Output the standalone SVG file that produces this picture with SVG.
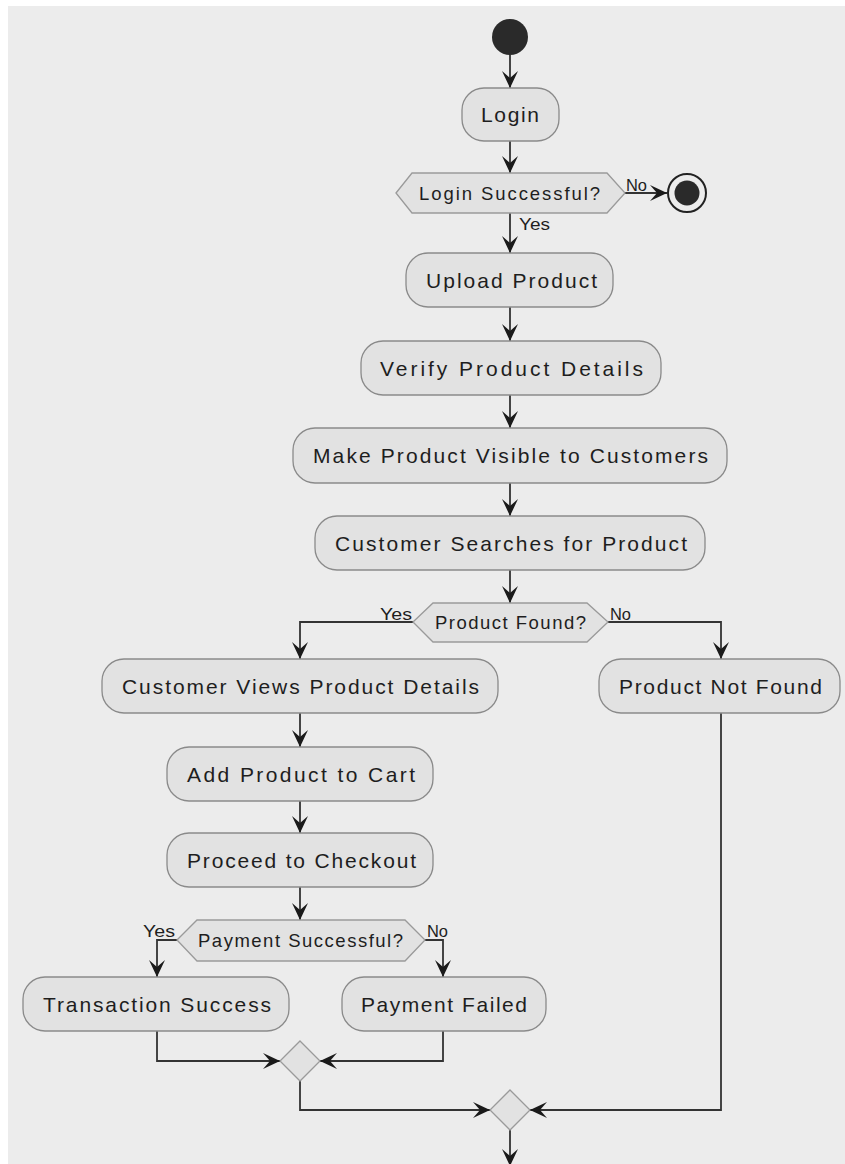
<svg xmlns="http://www.w3.org/2000/svg" width="845" height="1164" viewBox="0 0 845 1164">
<defs>
<style>
.bg{fill:#ececec}
.act rect{fill:#e2e2e2;stroke:#8a8a8a;stroke-width:1.3}
.dec polygon{fill:#e2e2e2;stroke:#9a9a9a;stroke-width:1.3}
.t{font-family:"Liberation Sans",Arial,sans-serif;font-size:21px;fill:#1e1e1e}
.ts{font-family:"Liberation Sans",Arial,sans-serif;font-size:18.5px;fill:#1e1e1e}
.lbl{font-family:"Liberation Sans",Arial,sans-serif;font-size:16px;fill:#1e1e1e}
.edge{fill:none;stroke:#333;stroke-width:1.8}
.arr{marker-end:url(#ah)}
</style>
<marker id="ah" markerUnits="userSpaceOnUse" viewBox="-18 -9 19 18" refX="0" refY="0" markerWidth="19" markerHeight="18" orient="auto">
<path d="M0,0 L-17,-8 L-10,0 L-17,8 Z" fill="#1a1a1a"/>
</marker>
</defs>
<rect width="845" height="1164" fill="#ffffff"/>
<rect class="bg" x="8" y="6" width="837" height="1158"/>

<g id="connectors">
<path class="edge arr" d="M510,55 V88"/>
<path class="edge arr" d="M510,141 V173"/>
<path class="edge arr" d="M625,193 H667"/>
<path class="edge arr" d="M510,213 V253"/>
<path class="edge arr" d="M510,307 V341"/>
<path class="edge arr" d="M510,395 V428"/>
<path class="edge arr" d="M510,483 V516"/>
<path class="edge arr" d="M510,570 V603"/>
<path class="edge arr" d="M413,622 H300 V659"/>
<path class="edge arr" d="M608,622 H721 V659"/>
<path class="edge arr" d="M300,713 V747"/>
<path class="edge arr" d="M300,801 V833"/>
<path class="edge arr" d="M300,887 V920"/>
<path class="edge arr" d="M177,940 H157 V977"/>
<path class="edge arr" d="M425,940 H443 V977"/>
<path class="edge arr" d="M157,1031 V1061 H280"/>
<path class="edge arr" d="M443,1031 V1061 H320"/>
<path class="edge arr" d="M300,1081 V1110 H490"/>
<path class="edge arr" d="M721,713 V1110 H530"/>
<path class="edge arr" d="M510,1130 V1166"/>
<text class="lbl" x="626" y="191" textLength="21" lengthAdjust="spacingAndGlyphs">No</text>
<text class="lbl" x="519" y="230" textLength="31" lengthAdjust="spacingAndGlyphs">Yes</text>
<text class="lbl" x="380" y="620" textLength="32" lengthAdjust="spacingAndGlyphs">Yes</text>
<text class="lbl" x="610" y="620" textLength="21" lengthAdjust="spacingAndGlyphs">No</text>
<text class="lbl" x="143" y="937" textLength="32" lengthAdjust="spacingAndGlyphs">Yes</text>
<text class="lbl" x="427" y="937" textLength="21" lengthAdjust="spacingAndGlyphs">No</text>
</g>

<g id="start"><circle cx="510" cy="37" r="18" fill="#2a2a2a"/></g>
<g id="end"><circle cx="687" cy="193" r="19" fill="none" stroke="#222" stroke-width="2"/><circle cx="687" cy="193" r="12.5" fill="#2a2a2a"/></g>

<g id="login" class="act"><rect x="462" y="88" width="97" height="53" rx="22"/><text class="t" x="481" y="121.5" textLength="58" lengthAdjust="spacing">Login</text></g>
<g id="loginSuccessful" class="dec"><polygon points="396,193 412,173 607,173 625,193 607,213 412,213"/><text class="ts" x="419" y="199.5" textLength="181" lengthAdjust="spacing">Login Successful?</text></g>
<g id="uploadProduct" class="act"><rect x="406" y="253" width="207" height="54" rx="22"/><text class="t" x="426" y="287.5" textLength="171" lengthAdjust="spacing">Upload Product</text></g>
<g id="verifyDetails" class="act"><rect x="361" y="341" width="300" height="54" rx="22"/><text class="t" x="380" y="375.5" textLength="263" lengthAdjust="spacing">Verify Product Details</text></g>
<g id="makeVisible" class="act"><rect x="293" y="428" width="434" height="55" rx="22"/><text class="t" x="313" y="463" textLength="395" lengthAdjust="spacing">Make Product Visible to Customers</text></g>
<g id="customerSearches" class="act"><rect x="315" y="516" width="390" height="54" rx="22"/><text class="t" x="335" y="550.5" textLength="352" lengthAdjust="spacing">Customer Searches for Product</text></g>
<g id="productFound" class="dec"><polygon points="413,622 433,603 587,603 608,622 587,642 433,642"/><text class="ts" x="435" y="628.5" textLength="151" lengthAdjust="spacing">Product Found?</text></g>
<g id="customerViews" class="act"><rect x="102" y="659" width="396" height="54" rx="22"/><text class="t" x="122" y="693.5" textLength="357" lengthAdjust="spacing">Customer Views Product Details</text></g>
<g id="productNotFound" class="act"><rect x="599" y="659" width="241" height="54" rx="22"/><text class="t" x="619" y="693.5" textLength="203" lengthAdjust="spacing">Product Not Found</text></g>
<g id="addToCart" class="act"><rect x="167" y="747" width="266" height="54" rx="22"/><text class="t" x="187" y="781.5" textLength="228" lengthAdjust="spacing">Add Product to Cart</text></g>
<g id="checkout" class="act"><rect x="167" y="833" width="266" height="54" rx="22"/><text class="t" x="187" y="867.5" textLength="229" lengthAdjust="spacing">Proceed to Checkout</text></g>
<g id="paymentSuccessful" class="dec"><polygon points="177,940 197,920 405,920 425,940 405,961 197,961"/><text class="ts" x="198" y="947" textLength="205" lengthAdjust="spacing">Payment Successful?</text></g>
<g id="transactionSuccess" class="act"><rect x="23" y="977" width="266" height="54" rx="22"/><text class="t" x="43" y="1011.5" textLength="228" lengthAdjust="spacing">Transaction Success</text></g>
<g id="paymentFailed" class="act"><rect x="342" y="977" width="204" height="54" rx="22"/><text class="t" x="361" y="1011.5" textLength="166" lengthAdjust="spacing">Payment Failed</text></g>
<g id="merge1" class="dec"><polygon points="300,1041 320,1061 300,1081 280,1061"/></g>
<g id="merge2" class="dec"><polygon points="510,1090 530,1110 510,1130 490,1110"/></g>
</svg>
